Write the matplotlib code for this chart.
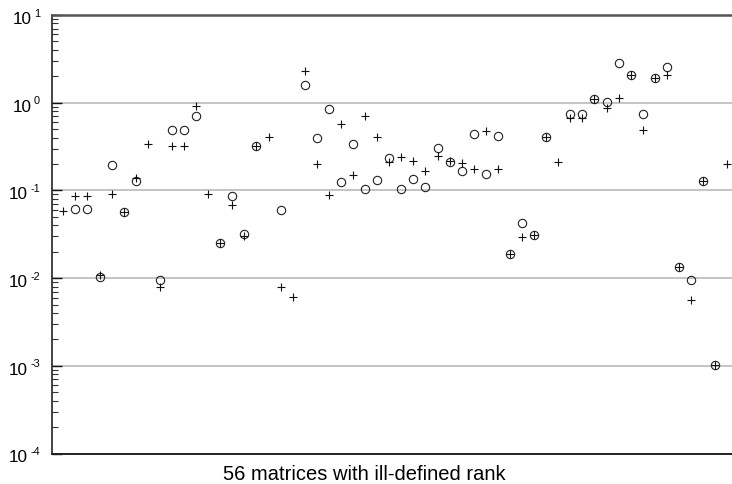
import numpy as np
import matplotlib.pyplot as plt
from matplotlib.ticker import LogLocator, NullFormatter

plt.rcParams['font.family'] = ['Liberation Sans', 'DejaVu Sans']

nan = np.nan
# matrix index 1..56
matrix_id = np.arange(1, 57)

# '+' series
plus_vals = [0.0587, 0.0870, 0.0870, 0.01085, 0.0903, 0.0572, 0.137, 0.336, 0.00786, 0.323,
             0.323, 0.910, 0.0910, 0.0249, 0.0687, 0.0302, 0.321, 0.410, 0.00786, 0.00604,
             2.317, 0.200, 0.0886, 0.576, 0.151, 0.700, 0.406, 0.209, 0.242, 0.215,
             0.1665, 0.245, 0.216, 0.207, 0.177, 0.476, 0.174, 0.0190, 0.0292, 0.0313,
             0.403, 0.209, 0.664, 0.664, 1.093, 0.877, 1.131, 2.053, 0.484, 1.897,
             2.053, 0.01328, 0.00563, 0.127, 0.001013, 0.2016]

# 'o' series (nan = not shown)
circ_vals = [nan, 0.0618, 0.0618, 0.01037, 0.1963, 0.0572, 0.128, nan, 0.00951, 0.484,
             0.484, 0.705, nan, 0.0249, 0.0870, 0.0318, 0.321, nan, 0.0593, nan,
             1.579, 0.399, 0.841, 0.1257, 0.341, 0.1046, 0.1324, 0.234, 0.1029, 0.136,
             0.1102, 0.307, 0.209, 0.1678, 0.440, 0.155, 0.4205, 0.0190, 0.0422, 0.0313,
             0.403, nan, 0.743, 0.743, 1.093, 1.011, 2.813, 2.053, 0.737, 1.897,
             2.553, 0.01328, 0.00959, 0.127, 0.001013, nan]

decades = [1, 0, -1, -2, -3, -4]
xlabel = '56 matrices with ill-defined rank'

W, H = 732, 484
fig = plt.figure(figsize=(W / 100, H / 100), dpi=100)
ax = fig.add_axes([52 / W, 30.5 / H, 687.3 / W, 438.5 / H])

ax.plot(matrix_id, circ_vals, ls='none', marker='o', ms=6, mfc='none',
        mec='#222222', mew=0.8)
ax.plot(matrix_id, plus_vals, ls='none', marker='+', ms=5.5, color='#111111', mew=0.8)

ax.set_yscale('log')
ax.set_ylim(1e-4, 10)
ax.set_xlim(0.06, 57)

ax.yaxis.set_major_locator(LogLocator(base=10, numticks=10))
ax.yaxis.set_minor_locator(LogLocator(base=10, subs=np.arange(2, 10), numticks=10))
ax.yaxis.set_minor_formatter(NullFormatter())
ax.tick_params(axis='y', which='major', direction='in', length=7, width=1,
               labelleft=False, color='#111111')
ax.tick_params(axis='y', which='minor', direction='in', length=4, width=0.8,
               color='#333333')
ax.tick_params(axis='x', bottom=False, labelbottom=False)

ax.grid(axis='y', which='major', color='#b4b4b4', lw=1.1)
ax.set_axisbelow(True)

ax.spines['left'].set_color('#111111')
ax.spines['left'].set_linewidth(1.1)
ax.spines['bottom'].set_color('#222222')
ax.spines['bottom'].set_linewidth(1.4)
ax.spines['top'].set_color('#555555')
ax.spines['top'].set_linewidth(1.8)
ax.spines['right'].set_visible(False)

# y tick labels: "10" with a small raised exponent, right aligned at x=40px
fig.canvas.draw()
renderer = fig.canvas.get_renderer()
for e in decades:
    ypx = ax.transData.transform((1, 10.0 ** e))[1]
    sup = fig.text(40 / W, (ypx - 1.5) / H, str(e), ha='right', va='baseline',
                   fontsize=7.8)
    bb = sup.get_window_extent(renderer)
    fig.text((bb.x0 - 2.5) / W, (ypx - 9) / H, '10', ha='right', va='baseline',
             fontsize=12.3)

fig.text(364.5 / W, 3.5 / H, xlabel, ha='center', va='baseline', fontsize=14.5)

fig.savefig('out.png', dpi=100)
